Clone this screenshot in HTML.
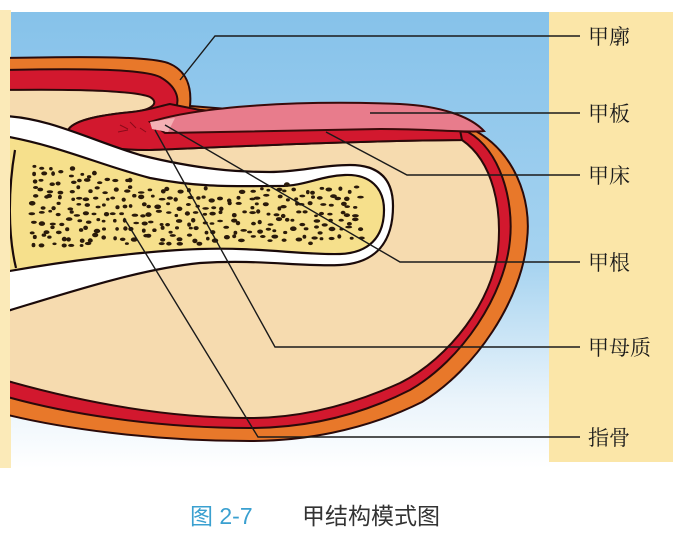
<!DOCTYPE html>
<html><head><meta charset="utf-8"><style>
html,body{margin:0;padding:0;background:#fff;}
body{width:687px;height:538px;overflow:hidden;position:relative;font-family:"Liberation Sans","Noto Sans CJK SC",sans-serif;}
</style></head><body>
<svg width="687" height="538" viewBox="0 0 687 538" xmlns="http://www.w3.org/2000/svg" style="position:absolute;left:0;top:0">
<defs>
<linearGradient id="sky" x1="0" y1="0" x2="0" y2="1">
<stop offset="0" stop-color="#86c2ea"/>
<stop offset="0.55" stop-color="#a6d3f0"/>
<stop offset="0.85" stop-color="#eaf4fb"/>
<stop offset="1" stop-color="#ffffff"/>
</linearGradient>
<clipPath id="c"><rect x="10" y="0" width="600" height="538"/></clipPath>
</defs>
<rect x="0" y="10" width="11" height="458" fill="#fbeab8"/>
<rect x="11" y="12" width="539" height="456" fill="url(#sky)"/>
<rect x="549" y="12" width="124" height="450" fill="#fbe6a8"/>

<g clip-path="url(#c)">
<!-- orange outer -->
<path d="M4,58 C100,56 150,57 168,63 C186,70 192,86 190,106 L470,128 C515,150 532,200 527,240 C522,300 475,370 422,402 C362,432 300,441 250,441 C150,441 60,428 4,414 Z" fill="#e8782a" stroke="#2a0a0a" stroke-width="2"/>
<!-- red layer -->
<path d="M4,70 C100,68 145,70 160,77 C176,86 180,98 176,108 L468,132 C500,150 514,200 510,240 C505,295 462,360 410,390 C355,418 300,428 250,428 C150,428 60,412 4,396 Z" fill="#d2182e" stroke="#2a0a0a" stroke-width="2"/>
<!-- cream interior -->
<path d="M4,90 C80,89 135,91 150,97 C160,103 152,110 132,112 C100,115 74,120 68,130 C68,143 105,150 150,150 C250,146 350,141 462,140 C494,162 502,210 498,250 C493,300 450,358 400,383 C340,410 290,418 250,418 C150,418 60,396 4,380 Z" fill="#f6dbaf" stroke="#2a0a0a" stroke-width="2"/>
<!-- red matrix lens -->
<path d="M68,130 C74,120 100,115 132,112 C150,110 160,106 170,104 L200,110 L320,124 L460,130 L462,140 C350,141 250,146 150,150 C105,150 68,143 68,130 Z" fill="#d2182e" stroke="#2a0a0a" stroke-width="2"/>
<!-- nail plate -->
<path d="M150,122 C200,106 300,100 400,104 C440,106 470,116 484,131 C470,133 430,129 380,129 L165,133 Z" fill="#e87c8c" stroke="#3a0a0a" stroke-width="2"/>
<path d="M150,122 L175,118 L168,132 L152,129 Z" fill="#f4b0b4"/>
<path d="M120,125 l8,4 M130,122 l6,6 M118,132 l10,-2 M140,128 l6,4" stroke="#8a0a1a" stroke-width="1" fill="none"/>

<!-- white band around bone -->
<path d="M4,116 C50,118 90,140 140,155 C200,170 240,172 270,172 C300,172 320,165 350,165 C382,165 393,182 393,206 C393,242 376,263 340,265 C300,267 260,259 200,263 C140,269 70,292 4,312 Z" fill="#ffffff" stroke="#1a0a0a" stroke-width="2.2"/>
<!-- bone -->
<path d="M4,136 C60,146 100,165 150,178 C200,188 240,186 280,186 C305,186 320,176 345,175 C370,174 384,188 384,210 C384,238 368,253 340,254 C300,255 260,247 200,249 C140,251 60,262 4,272 Z" fill="#f6e08c" stroke="#1a0a0a" stroke-width="2.2"/>
<path d="M15,150 C8,190 8,235 16,268" stroke="#1a0a0a" stroke-width="2.2" fill="none"/>
</g>
<g id="dots" fill="#2a1a0a"></g>

<!-- leader lines -->
<g stroke="#1a1a1a" stroke-width="1.4" fill="none">
<polyline points="180,80 215,36 580,36"/>
<polyline points="370,113 580,113"/>
<polyline points="326,132 407,175 580,175"/>
<polyline points="165,125 400,262 580,262"/>
<polyline points="155,130 275,347 580,347"/>
<polyline points="124,218 258,437 580,437"/>
</g>
<g font-family="'Liberation Serif','Noto Serif CJK SC',serif" font-size="21" fill="#1a1a1a">
<text x="588" y="44">甲廓</text>
<text x="588" y="121">甲板</text>
<text x="588" y="183">甲床</text>
<text x="588" y="270">甲根</text>
<text x="588" y="355">甲母质</text>
<text x="588" y="445">指骨</text>
</g>
<text x="190" y="524" font-family="'Liberation Sans','Noto Sans CJK SC',sans-serif" font-size="23" fill="#3aa0d0">图 2-7</text>
<text x="302" y="524" font-family="'Liberation Sans','Noto Sans CJK SC',sans-serif" font-size="23" fill="#333">甲结构模式图</text>
</svg>
<script>
(function(){
var g=document.getElementById('dots');var s=7;function r(){s=(s*9301+49297)%233280;return s/233280;}
var ns='http://www.w3.org/2000/svg';
for(var x=34;x<364;x+=9){for(var y=166;y<248;y+=8){
var xx=x+r()*7-3,yy=y+r()*6-3;
var top=x<150?150+(x-14)*0.2+6:(x<280?188:184);
var bot=x<150?262-(x)*0.08-8:244;
if(x>330){top=184;bot=242;}
if(yy<top||yy>bot)continue;
var e=document.createElementNS(ns,'ellipse');
e.setAttribute('cx',xx.toFixed(1));e.setAttribute('cy',yy.toFixed(1));
e.setAttribute('rx',(1.8+r()*1.6).toFixed(1));e.setAttribute('ry',(1.3+r()*1).toFixed(1));
g.appendChild(e);}}
})();
</script>
</body></html>
